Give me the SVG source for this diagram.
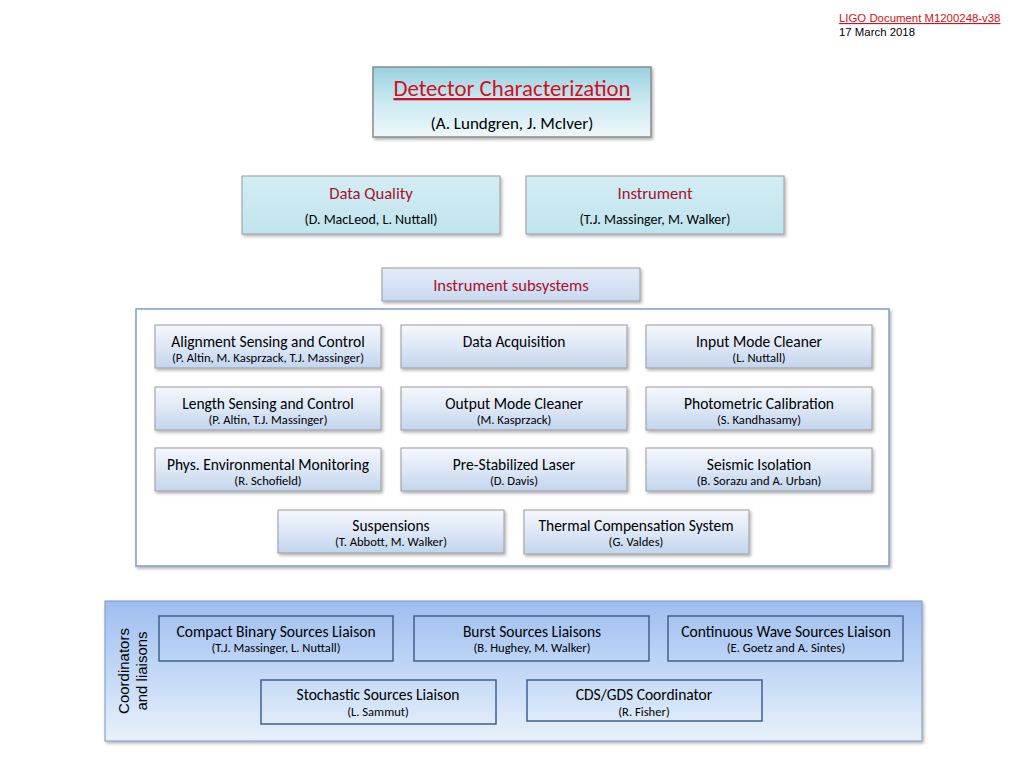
<svg xmlns="http://www.w3.org/2000/svg" width="1024" height="768" viewBox="0 0 1024 768">
<defs>
<linearGradient id="gTop" x1="0" y1="0" x2="0" y2="1"><stop offset="0" stop-color="#9ad1e0"/><stop offset="0.5" stop-color="#cbe9f1"/><stop offset="1" stop-color="#eef8fb"/></linearGradient>
<linearGradient id="gMid" x1="0" y1="0" x2="0" y2="1"><stop offset="0" stop-color="#d3edf4"/><stop offset="1" stop-color="#c0e4ee"/></linearGradient>
<linearGradient id="gSub" x1="0" y1="0" x2="0" y2="1"><stop offset="0" stop-color="#e4ecf8"/><stop offset="1" stop-color="#c8d9f0"/></linearGradient>
<linearGradient id="gBox" x1="0" y1="0" x2="0" y2="1"><stop offset="0" stop-color="#f5f8fd"/><stop offset="0.5" stop-color="#dde7f6"/><stop offset="1" stop-color="#c3d5ee"/></linearGradient>
<linearGradient id="gPanel" x1="0" y1="0" x2="0" y2="1"><stop offset="0" stop-color="#9ebef0"/><stop offset="0.5" stop-color="#c2d8f6"/><stop offset="1" stop-color="#e8f1fb"/></linearGradient>
<filter id="sh" x="-5%" y="-10%" width="110%" height="130%"><feDropShadow dx="1.5" dy="2" stdDeviation="1.5" flood-color="#000" flood-opacity="0.3"/></filter>
</defs>
<style>
text{font-family:Carlito,Lato,"Open Sans",sans-serif;text-anchor:middle;fill:#000}
.hd{font-family:"Liberation Sans",Arial,sans-serif;text-anchor:start;font-size:11.4px}
.vt{font-family:"Liberation Sans",Arial,sans-serif;font-size:15px}
.red{fill:#d01020}
.crim{fill:#a8102c}
.t{font-size:15.5px}
.s{font-size:12.6px}
.mt{font-size:16.6px}
.ms{font-size:14px}
.box{fill:url(#gBox);stroke:#9a9a9a;stroke-width:1;filter:url(#sh)}
.lia{fill:none;stroke:#40608c;stroke-width:1.5}
</style>
<g id="header">
<text class="hd red" x="839" y="22" text-decoration="underline">LIGO Document M1200248-v38</text>
<text class="hd" x="839" y="36">17 March 2018</text>
</g>
<g id="detchar">
<rect x="373" y="67" width="278" height="70" fill="url(#gTop)" stroke="#8a8a8a" stroke-width="1.5" filter="url(#sh)"/>
<text x="512" y="96" font-size="22.8" class="red" text-decoration="underline">Detector Characterization</text>
<text x="512" y="129" font-size="17">(A. Lundgren, J. McIver)</text>
</g>
<g id="dataquality">
<rect x="242" y="176" width="258" height="58" fill="url(#gMid)" stroke="#9a9a9a" stroke-width="1" filter="url(#sh)"/>
<text class="mt crim" x="371" y="199">Data Quality</text>
<text class="ms" x="371" y="224">(D. MacLeod, L. Nuttall)</text>
</g>
<g id="instrument">
<rect x="526" y="176" width="258" height="58" fill="url(#gMid)" stroke="#9a9a9a" stroke-width="1" filter="url(#sh)"/>
<text class="mt crim" x="655" y="199">Instrument</text>
<text class="ms" x="655" y="224">(T.J. Massinger, M. Walker)</text>
</g>
<g id="subsystems-label">
<rect x="382" y="268" width="258" height="33" fill="url(#gSub)" stroke="#9a9a9a" stroke-width="1" filter="url(#sh)"/>
<text class="mt crim" x="511" y="291">Instrument subsystems</text>
</g>
<g id="subsystems-panel">
<rect x="136" y="309" width="753" height="257" fill="#ffffff" stroke="#7f9fca" stroke-width="1.5" filter="url(#sh)"/>
</g>
<g id="asc"><rect class="box" x="155" y="325" width="226" height="43"/><text class="t" x="268" y="347">Alignment Sensing and Control</text><text class="s" x="268" y="362">(P. Altin, M. Kasprzack, T.J. Massinger)</text></g>
<g id="daq"><rect class="box" x="401" y="325" width="226" height="43"/><text class="t" x="514" y="347">Data Acquisition</text></g>
<g id="imc"><rect class="box" x="646" y="325" width="226" height="43"/><text class="t" x="759" y="347">Input Mode Cleaner</text><text class="s" x="759" y="362">(L. Nuttall)</text></g>
<g id="lsc"><rect class="box" x="155" y="387" width="226" height="43"/><text class="t" x="268" y="409">Length Sensing and Control</text><text class="s" x="268" y="424">(P. Altin, T.J. Massinger)</text></g>
<g id="omc"><rect class="box" x="401" y="387" width="226" height="43"/><text class="t" x="514" y="409">Output Mode Cleaner</text><text class="s" x="514" y="424">(M. Kasprzack)</text></g>
<g id="pcal"><rect class="box" x="646" y="387" width="226" height="43"/><text class="t" x="759" y="409">Photometric Calibration</text><text class="s" x="759" y="424">(S. Kandhasamy)</text></g>
<g id="pem"><rect class="box" x="155" y="448" width="226" height="43"/><text class="t" x="268" y="470">Phys. Environmental Monitoring</text><text class="s" x="268" y="485">(R. Schofield)</text></g>
<g id="psl"><rect class="box" x="401" y="448" width="226" height="43"/><text class="t" x="514" y="470">Pre-Stabilized Laser</text><text class="s" x="514" y="485">(D. Davis)</text></g>
<g id="sei"><rect class="box" x="646" y="448" width="226" height="43"/><text class="t" x="759" y="470">Seismic Isolation</text><text class="s" x="759" y="485">(B. Sorazu and A. Urban)</text></g>
<g id="sus"><rect class="box" x="278" y="510" width="226" height="43"/><text class="t" x="391" y="531">Suspensions</text><text class="s" x="391" y="546">(T. Abbott, M. Walker)</text></g>
<g id="tcs"><rect class="box" x="524" y="510" width="225" height="44"/><text class="t" x="636" y="531">Thermal Compensation System</text><text class="s" x="636" y="546">(G. Valdes)</text></g>
<g id="coordinators-panel">
<rect x="105" y="601" width="817" height="140" fill="url(#gPanel)" stroke="#7a96c0" stroke-width="1" filter="url(#sh)"/>
<text class="vt" transform="translate(129,671) rotate(-90)">Coordinators</text>
<text class="vt" transform="translate(147,671) rotate(-90)">and liaisons</text>
</g>
<g id="cbc"><rect class="lia" x="159" y="616" width="234" height="45"/><text class="t" x="276" y="637">Compact Binary Sources Liaison</text><text class="s" x="276" y="652">(T.J. Massinger, L. Nuttall)</text></g>
<g id="burst"><rect class="lia" x="414" y="616" width="235" height="45"/><text class="t" x="532" y="637">Burst Sources Liaisons</text><text class="s" x="532" y="652">(B. Hughey, M. Walker)</text></g>
<g id="cw"><rect class="lia" x="668" y="616" width="235" height="45"/><text class="t" x="786" y="637">Continuous Wave Sources Liaison</text><text class="s" x="786" y="652">(E. Goetz and A. Sintes)</text></g>
<g id="stoch"><rect class="lia" x="261" y="680" width="235" height="44"/><text class="t" x="378" y="700">Stochastic Sources Liaison</text><text class="s" x="378" y="716">(L. Sammut)</text></g>
<g id="cds"><rect class="lia" x="527" y="680" width="235" height="41"/><text class="t" x="644" y="700">CDS/GDS Coordinator</text><text class="s" x="644" y="716">(R. Fisher)</text></g>
<g id="connectors"/>
</svg>
